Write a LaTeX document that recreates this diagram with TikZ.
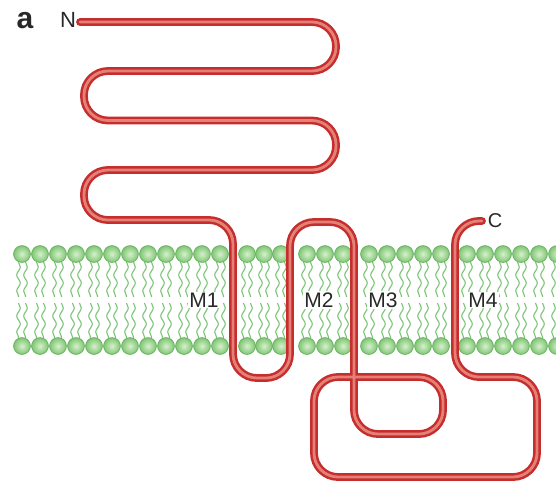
\documentclass[tikz,border=0pt]{standalone}
\usepackage{fontspec}
\setmainfont{Liberation Sans}
\usepackage{xcolor}
\usetikzlibrary{decorations.pathmorphing}

\definecolor{tubered}{RGB}{198,46,46}
\definecolor{tubelight}{RGB}{228,128,118}
\definecolor{headrim}{RGB}{104,178,98}
\definecolor{headin}{RGB}{214,240,204}
\definecolor{headout}{RGB}{128,198,116}
\definecolor{tailgreen}{RGB}{122,196,118}
\definecolor{labelgray}{RGB}{40,40,40}

\tikzset{
	head/.style={draw=headrim,line width=0.4pt,inner color=headin,outer color=headout},
	tail/.style={draw=tailgreen,line width=0.55pt,decorate,decoration={snake,amplitude=0.9pt,segment length=8pt}},
	tube/.style={draw=tubered,line width=1.25pt,double=tubelight,double distance=1.4pt,rounded corners=12pt,line cap=round},
	helix/.style={fill=white,inner sep=0.6pt,text=labelgray,font=\fontsize{10.5}{10.5}\selectfont}
}

\begin{document}
\begin{tikzpicture}[x=0.5pt,y=-0.5pt]
	\useasboundingbox (0,0) rectangle (556,489);

	\foreach \x in {22,40,58,76,94,112,130,148,166,184,202,220,247,264,281,307,325,343,369,387,405,423,441,467,485,503,521,539,557}
	{
		\foreach \d in {-3.5,3.5}
		{
			\draw[tail] (\x+\d,262)--(\x+\d,297);
			\draw[tail] (\x+\d,303)--(\x+\d,338);
		};
		\shadedraw[head] (\x,254) circle[radius=4.2pt];
		\shadedraw[head] (\x,346) circle[radius=4.2pt];
	};

	\node[helix] (m1) at (204,300){M1};
	\node[helix] (m2) at (319,300){M2};
	\node[helix] (m3) at (383,300){M3};
	\node[helix] (m4) at (483,300){M4};

	\node[text=labelgray,font=\fontsize{15}{15}\selectfont\bfseries] (panel) at (25,21){a};
	\node[text=labelgray,font=\fontsize{11}{11}\selectfont] (nterm) at (68,20){N};
	\node[text=labelgray,font=\fontsize{10}{10}\selectfont] (cterm) at (495,221){C};

	\draw[tube] (80,22)--(336,22)--(336,71)--(84,71)--(84,120.5)--(336,120.5)--(336,170)--(84,170)--(84,220)
		--(233,220)--(233,378)--(290,378)--(290,222)--(354,222)--(354,434)--(443,434)--(443,377)
		--(314,377)--(314,477)--(537,477)--(537,377)--(455,377)--(455,221)--(482,221);
\end{tikzpicture}
\end{document}
